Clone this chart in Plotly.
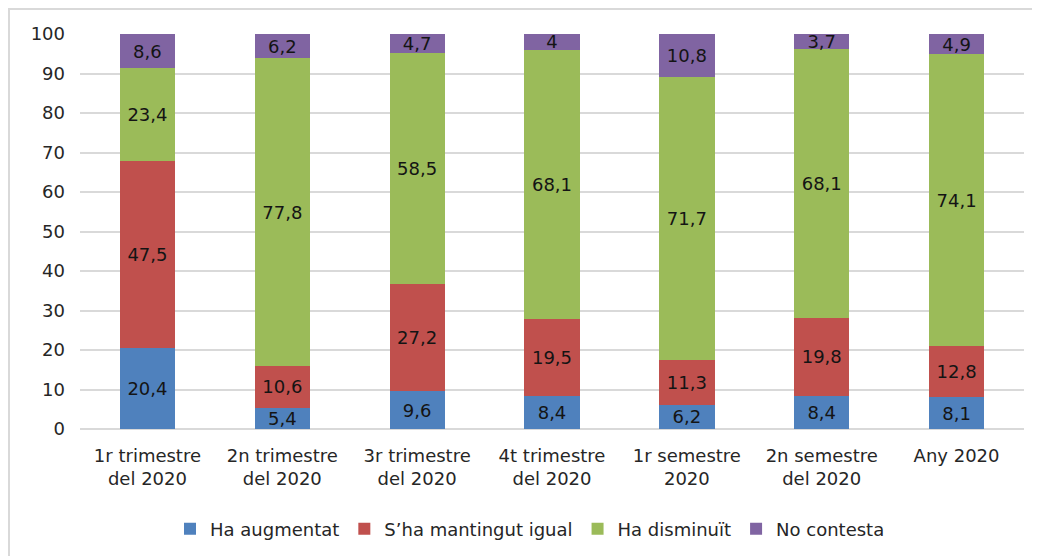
import plotly.graph_objects as go

categories = ["1r trimestre<br>del 2020", "2n trimestre<br>del 2020", "3r trimestre<br>del 2020",
              "4t trimestre<br>del 2020", "1r semestre<br>2020", "2n semestre<br>del 2020", "Any 2020"]
series_names = ["Ha augmentat", "S\u2019ha mantingut igual", "Ha disminuït", "No contesta"]
augmentat = [20.4, 5.4, 9.6, 8.4, 6.2, 8.4, 8.1]
igual = [47.5, 10.6, 27.2, 19.5, 11.3, 19.8, 12.8]
disminuit = [23.4, 77.8, 58.5, 68.1, 71.7, 68.1, 74.1]
no_contesta = [8.6, 6.2, 4.7, 4.0, 10.8, 3.7, 4.9]
y_ticks = [0, 10, 20, 30, 40, 50, 60, 70, 80, 90, 100]

colors = ["#4F81BD", "#C0504D", "#9BBB59", "#8064A2"]
FONT = "DejaVu Sans"
FS = 18

def fmt(v):
    return ("%g" % v).replace(".", ",")

# page has 8px body margin: figure is 1032x548 placed at (8,8)
W, H = 1032, 548
ML, MR, MT, MB = 72, 16, 26, 127
PW, PH = W - ML - MR, H - MT - MB

fig = go.Figure()
for name, vals, col in zip(series_names, [augmentat, igual, disminuit, no_contesta], colors):
    fig.add_trace(go.Bar(
        name=name, x=categories, y=vals, marker=dict(color=col, line=dict(width=0)),
        text=[fmt(v) for v in vals], textposition="inside", insidetextanchor="middle",
        textfont=dict(family=FONT, size=FS, color="#141414"), textangle=0,
        hoverinfo="skip",
    ))

fig.update_layout(
    barmode="stack", bargap=0.59,
    width=W, height=H,
    margin=dict(l=ML, r=MR, t=MT, b=MB, autoexpand=False),
    paper_bgcolor="white", plot_bgcolor="white",
    font=dict(family=FONT, size=FS, color="#262626"),
    uniformtext=dict(minsize=FS, mode="show"),
    legend=dict(orientation="h", x=0.5 - 22 / PW, xanchor="center", y=-(521 - 421) / PH, yanchor="middle",
                font=dict(family=FONT, size=FS, color="#262626"), traceorder="normal",
                itemwidth=30),
    xaxis=dict(showgrid=False, showline=False, ticks="", tickfont=dict(size=FS),
               ticklabelstandoff=14),
    yaxis=dict(range=[0, 100], tickvals=y_ticks, showgrid=True, gridcolor="#d9d9d9", gridwidth=1.5,
               zeroline=True, zerolinecolor="#d9d9d9", zerolinewidth=1.5, showline=False,
               ticks="", ticklabelstandoff=14, tickfont=dict(size=FS)),
    showlegend=True,
)
# light frame (top and left edges visible in reference)
fig.add_shape(type="line", xref="paper", yref="paper", x0=-ML / PW, x1=1 + MR / PW,
              y0=1 + (MT - 1) / PH, y1=1 + (MT - 1) / PH, line=dict(color="#d9d9d9", width=2))
fig.add_shape(type="line", xref="paper", yref="paper", x0=-(ML - 1) / PW, x1=-(ML - 1) / PW,
              y0=1 + MT / PH, y1=-MB / PH, line=dict(color="#d9d9d9", width=2))
fig.write_html("out.html")
